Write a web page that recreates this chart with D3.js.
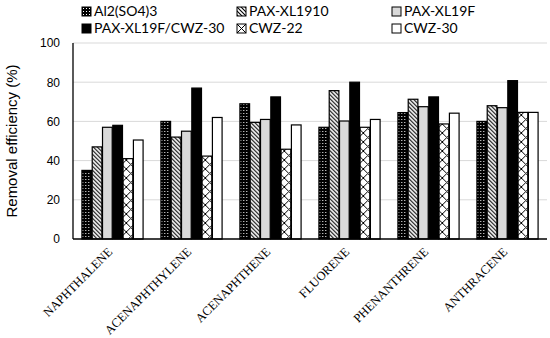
<!DOCTYPE html>
<html>
<head>
<meta charset="utf-8">
<style>
body { margin: 0; background: #fff; }
.axis .domain { display: none; }
</style>
</head>
<body>
<svg width="550" height="338"></svg>
<script src="https://d3js.org/d3.v7.min.js"></script>
<script>
var categories = ["NAPHTHALENE", "ACENAPHTHYLENE", "ACENAPHTHENE", "FLUORENE", "PHENANTHRENE", "ANTHRACENE"];
var seriesNames = ["Al2(SO4)3", "PAX-XL1910", "PAX-XL19F", "PAX-XL19F/CWZ-30", "CWZ-22", "CWZ-30"];
var al2so43   = [35, 60, 69, 57, 64.5, 60];
var paxXl1910 = [47, 52, 59.5, 75.7, 71.3, 68];
var paxXl19f  = [57, 55, 61, 60.2, 67.5, 67];
var paxCwz30  = [58, 77, 72.5, 80, 72.5, 80.8];
var cwz22     = [41, 42.3, 45.8, 57, 58.7, 64.6];
var cwz30     = [50.5, 62, 58.2, 61, 64.2, 64.6];
var yTicks = [0, 20, 40, 60, 80, 100];

var values = [al2so43, paxXl1910, paxXl19f, paxCwz30, cwz22, cwz30];
var fills = ["url(#dots)", "url(#stripes)", "#d9d9d9", "#000", "url(#cross)", "#fff"];

var svg = d3.select("svg"),
    margin = {top: 43, right: 3, bottom: 99, left: 73},
    width = 550 - margin.left - margin.right,
    height = 338 - margin.top - margin.bottom;

// patterns
var defs = svg.append("defs");
var p1 = defs.append("pattern").attr("id", "dots").attr("patternUnits", "userSpaceOnUse")
    .attr("width", 3).attr("height", 3);
p1.append("rect").attr("width", 3).attr("height", 3).attr("fill", "#000");
p1.append("rect").attr("x", 1).attr("y", 1).attr("width", 1).attr("height", 1).attr("fill", "#fff");

var p2 = defs.append("pattern").attr("id", "stripes").attr("patternUnits", "userSpaceOnUse")
    .attr("width", 4).attr("height", 4);
p2.append("rect").attr("width", 4).attr("height", 4).attr("fill", "#fff");
p2.append("path").attr("d", "M-1,-1L5,5M-1,3L1,5M3,-1L5,1").attr("stroke", "#000").attr("stroke-width", 1.1);

var p3 = defs.append("pattern").attr("id", "cross").attr("patternUnits", "userSpaceOnUse")
    .attr("width", 9).attr("height", 9);
p3.append("rect").attr("width", 9).attr("height", 9).attr("fill", "#fff");
p3.append("path").attr("d", "M0,0L9,9M9,0L0,9").attr("stroke", "#000").attr("stroke-width", 1);

var g = svg.append("g").attr("transform", "translate(" + margin.left + "," + margin.top + ")");

var x0 = d3.scaleBand().domain(categories).range([0, width]).paddingInner(0.21).paddingOuter(0.105);
var x1 = d3.scaleBand().domain(d3.range(seriesNames.length)).range([0, x0.bandwidth()]).padding(0.06);
var y = d3.scaleLinear().domain([0, 100]).range([height, 0]);

// grid
g.append("g").selectAll("line").data(yTicks.slice(1)).enter().append("line")
    .attr("x1", 0).attr("x2", width)
    .attr("y1", function(d) { return y(d); }).attr("y2", function(d) { return y(d); })
    .attr("stroke", "#d9d9d9").attr("stroke-width", 1);

// bars
var groups = g.append("g").selectAll("g").data(categories).enter().append("g")
    .attr("transform", function(d) { return "translate(" + x0(d) + ",0)"; });

groups.selectAll("rect")
    .data(function(d, i) { return values.map(function(s, k) { return {k: k, v: s[i]}; }); })
    .enter().append("rect")
    .attr("x", function(d) { return x1(d.k); })
    .attr("y", function(d) { return y(d.v); })
    .attr("width", x1.bandwidth())
    .attr("height", function(d) { return height - y(d.v); })
    .attr("fill", function(d) { return fills[d.k]; })
    .attr("stroke", "#000").attr("stroke-width", 1.2);

// axes lines
g.append("line").attr("x1", 0).attr("x2", width).attr("y1", height).attr("y2", height)
    .attr("stroke", "#000").attr("stroke-width", 1.3);
g.append("line").attr("x1", 0).attr("x2", 0).attr("y1", 0).attr("y2", height)
    .attr("stroke", "#000").attr("stroke-width", 1.3);

var yAxis = g.append("g").attr("class", "axis")
    .call(d3.axisLeft(y).tickValues(yTicks).tickSize(0).tickPadding(13));
yAxis.selectAll("text").attr("font-family", "Liberation Sans, Arial, sans-serif")
    .attr("font-size", 12).attr("fill", "#000");

var xAxis = g.append("g").attr("class", "axis").attr("transform", "translate(0," + height + ")")
    .call(d3.axisBottom(x0).tickSize(0).tickPadding(0));
xAxis.selectAll("text")
    .attr("font-family", "Liberation Serif, Times New Roman, serif")
    .attr("font-size", 12.5).attr("fill", "#000")
    .attr("text-anchor", "end")
    .attr("dy", "0.3em")
    .attr("transform", "translate(-2,11) rotate(-45)");

svg.append("text")
    .attr("transform", "translate(17," + (margin.top + height / 2) + ") rotate(-90)")
    .attr("text-anchor", "middle")
    .attr("font-family", "Liberation Sans, Arial, sans-serif")
    .attr("font-size", 15)
    .text("Removal efficiency (%)");

// legend
var legend = svg.append("g").attr("font-family", "Lato, Open Sans, sans-serif").attr("font-size", 14)
    .selectAll("g").data(seriesNames).enter().append("g")
    .attr("transform", function(d, i) {
      return "translate(" + (82 + (i % 3) * 155) + "," + (7 + Math.floor(i / 3) * 17) + ")";
    });
legend.append("rect").attr("width", 9).attr("height", 9)
    .attr("fill", function(d, i) { return fills[i]; })
    .attr("stroke", "#000").attr("stroke-width", 1);
legend.append("text").attr("x", 12).attr("y", 4.5).attr("dy", "0.35em")
    .text(function(d) { return d; });
</script>
</body>
</html>
